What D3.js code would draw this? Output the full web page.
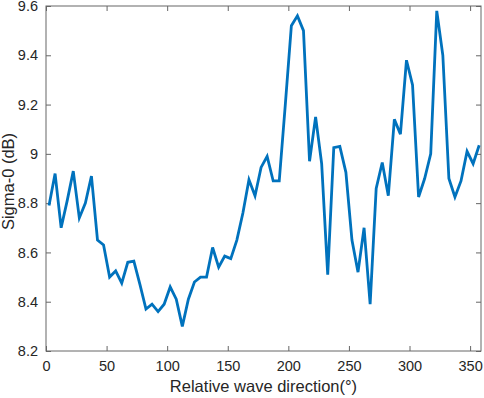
<!DOCTYPE html>
<html><head><meta charset="utf-8">
<script src="https://cdn.jsdelivr.net/npm/d3@7"></script>
<style>body{margin:0;background:#fff}svg{display:block}text{font-family:"Liberation Sans",Arial,sans-serif;fill:#262626}</style>
</head><body><svg id="c" width="484" height="398"></svg>
<script>
const directions = d3.range(2.5, 360, 5);
const sigma0 = [8.79,8.92,8.70,8.81,8.93,8.74,8.80,8.91,8.65,8.63,
  8.50,8.525,8.475,8.56,8.565,8.47,8.37,8.39,8.36,8.39,
  8.46,8.41,8.30,8.41,8.48,8.50,8.50,8.62,8.54,8.585,
  8.575,8.65,8.76,8.895,8.83,8.945,8.99,8.89,8.89,9.2,
  9.52,9.56,9.50,8.97,9.15,8.96,8.51,9.025,9.03,8.925,
  8.65,8.52,8.70,8.39,8.86,8.965,8.83,9.14,9.08,9.38,
  9.28,8.825,8.90,9.00,9.58,9.40,8.90,8.825,8.89,9.01,
  8.96,9.035];
const xTicks = [0,50,100,150,200,250,300,350];
const yTicks = [8.2,8.4,8.6,8.8,9,9.2,9.4,9.6];

const L=46, R=481, T=6, B=351;
const svg = d3.select("#c");
const x = d3.scaleLinear().domain([0,359]).range([L,R]);
const y = d3.scaleLinear().domain([8.2,9.6]).range([B,T]);
const axColor = "#666";

const gx = svg.append("g").attr("transform",`translate(0,${B})`)
  .call(d3.axisBottom(x).tickValues(xTicks).tickSizeInner(-5).tickSizeOuter(0).tickPadding(10).tickFormat(d3.format("d")));
const gxt = svg.append("g").attr("transform",`translate(0,${T})`)
  .call(d3.axisTop(x).tickValues(xTicks).tickSizeInner(-5).tickSizeOuter(0).tickFormat(""));
const gy = svg.append("g").attr("transform",`translate(${L},0)`)
  .call(d3.axisLeft(y).tickValues(yTicks).tickSizeInner(-5).tickSizeOuter(0).tickPadding(8).tickFormat(d=> d===9? "9" : d3.format(".1f")(d)));
const gyr = svg.append("g").attr("transform",`translate(${R},0)`)
  .call(d3.axisRight(y).tickValues(yTicks).tickSizeInner(-5).tickSizeOuter(0).tickFormat(""));
[gx,gxt,gy,gyr].forEach(g=>{
  g.select(".domain").remove();
  g.selectAll(".tick line").attr("stroke",axColor);
  g.selectAll("text").attr("font-size",14.5).attr("fill","#262626");
});
svg.append("rect").attr("x",L).attr("y",T).attr("width",R-L).attr("height",B-T)
  .attr("fill","none").attr("stroke",axColor).attr("stroke-width",1);

const line = d3.line().x((d,i)=>x(directions[i])).y(d=>y(d));
svg.append("path").datum(sigma0).attr("d",line).attr("fill","none")
  .attr("stroke","#0072BD").attr("stroke-width",2.8).attr("stroke-linejoin","miter");

svg.append("text").attr("x",(L+R)/2).attr("y",392).attr("text-anchor","middle")
  .attr("font-size",16.5).text("Relative wave direction(°)");
svg.append("text").attr("transform",`translate(14,${(T+B)/2+3}) rotate(-90)`).attr("text-anchor","middle")
  .attr("font-size",16.5).text("Sigma-0 (dB)");
</script></body></html>
